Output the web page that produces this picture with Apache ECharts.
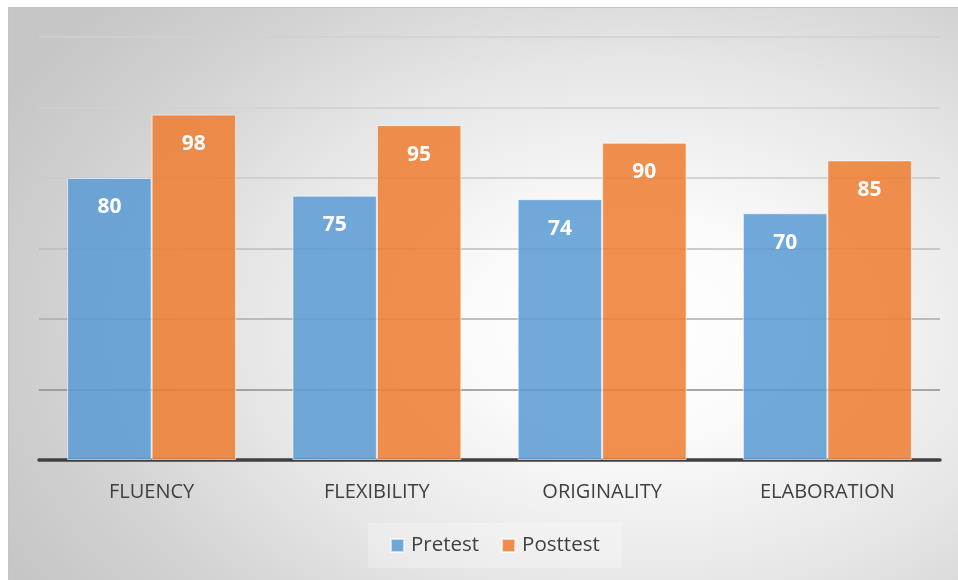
<!DOCTYPE html>
<html>
<head>
<meta charset="utf-8">
<script src="https://cdn.jsdelivr.net/npm/echarts@6/dist/echarts.min.js"></script>
<style>
  html, body { margin: 0; padding: 0; background: #ffffff; }
  #wrap { position: relative; width: 958px; height: 580px; background: #ffffff; }
  #frame {
    position: absolute; left: 8px; top: 7px; width: 950px; height: 573px;
    box-sizing: border-box; border-left: 1px solid #c4c4c4; border-top: 1px solid #c4c4c4;
    background: radial-gradient(ellipse 75% 85% at 66% 56%, #ffffff 0%, #fbfbfb 22%, #e6e6e6 55%, #d2d2d2 80%, #c6c6c6 100%);
  }
  #chart { position: absolute; left: 0; top: 0; width: 958px; height: 580px; }
</style>
</head>
<body>
<div id="wrap">
  <div id="frame"></div>
  <div id="chart"></div>
</div>
<script>
const categories = ['FLUENCY', 'FLEXIBILITY', 'ORIGINALITY', 'ELABORATION'];
const pretest = [80, 75, 74, 70];
const posttest = [98, 95, 90, 85];
const seriesNames = ['Pretest', 'Posttest'];

const chart = echarts.init(document.getElementById('chart'), null, { renderer: 'canvas' });

const labelStyle = {
  show: true,
  position: 'insideTop',
  distance: 19,
  color: '#ffffff',
  fontSize: 21,
  fontWeight: 'bold',
  fontFamily: 'Open Sans'
};

chart.setOption({
  backgroundColor: 'transparent',
  animation: false,
  grid: { left: 39, right: 18, top: 37, bottom: 120, containLabel: false },
  legend: {
    data: seriesNames,
    left: 368,
    top: 523,
    padding: [12, 22, 12, 22],
    backgroundColor: 'rgba(255,255,255,0.25)',
    itemWidth: 13,
    itemHeight: 13,
    itemGap: 22,
    icon: 'rect',
    textStyle: { color: '#404040', fontSize: 20.5, fontFamily: 'Open Sans', padding: [0, 0, 0, 2] }
  },
  xAxis: {
    type: 'category',
    data: categories,
    axisLine: { show: true, lineStyle: { color: '#404040', width: 3.5 } },
    axisTick: { show: false },
    axisLabel: { color: '#404040', fontSize: 20, fontFamily: 'Open Sans', margin: 22 },
    splitLine: { show: false }
  },
  yAxis: {
    type: 'value',
    min: 0,
    max: 120,
    interval: 20,
    axisLine: { show: false },
    axisTick: { show: false },
    axisLabel: { show: false },
    splitLine: {
      show: true,
      lineStyle: { color: ['#404040', '#8c8c8c', '#ababab', '#bdbdbd', '#cacaca', '#d0d0d0', '#d0d0d0'], width: 1.5 }
    }
  },
  series: [
    {
      name: seriesNames[0],
      type: 'bar',
      data: pretest,
      barGap: '0%',
      barCategoryGap: '25%',
      itemStyle: { color: 'rgba(91,155,213,0.86)', borderColor: 'rgba(255,255,255,0.6)', borderWidth: 1 },
      label: labelStyle
    },
    {
      name: seriesNames[1],
      type: 'bar',
      data: posttest,
      barGap: '0%',
      barCategoryGap: '25%',
      itemStyle: { color: 'rgba(237,125,49,0.86)', borderColor: 'rgba(255,255,255,0.6)', borderWidth: 1 },
      label: labelStyle
    }
  ]
});
</script>
</body>
</html>
